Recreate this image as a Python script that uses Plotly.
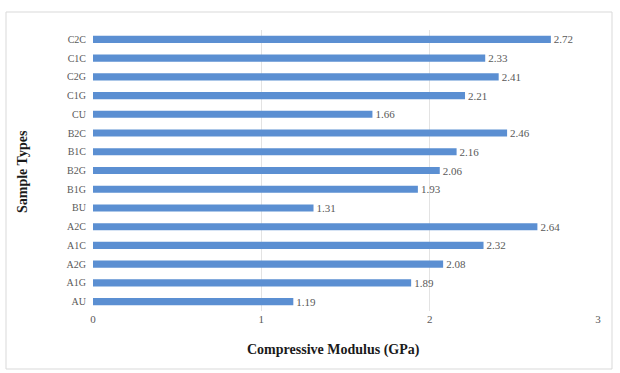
import plotly.graph_objects as go

# Sample types listed bottom-to-top as drawn on the category axis
sample_types = ["AU", "A1G", "A2G", "A1C", "A2C",
                "BU", "B1G", "B2G", "B1C", "B2C",
                "CU", "C1G", "C2G", "C1C", "C2C"]
modulus_gpa = [1.19, 1.89, 2.08, 2.32, 2.64,
               1.31, 1.93, 2.06, 2.16, 2.46,
               1.66, 2.21, 2.41, 2.33, 2.72]
x_ticks = [0, 1, 2, 3]

W, H = 620, 373
L, R, T, B = 93, 22, 30, 62
pw, ph = W - L - R, H - T - B

def px_to_paper_x(px):
    return (px - L) / pw

def px_to_paper_y(py):
    return (H - B - py) / ph

serif = "Liberation Serif"

fig = go.Figure(go.Bar(
    y=sample_types,
    x=modulus_gpa,
    orientation="h",
    marker=dict(color="#5b8fd2", line=dict(width=0)),
    text=[f"{v:.2f}" for v in modulus_gpa],
    textposition="outside",
    constraintext="none",
    textfont=dict(family=serif, size=11, color="#595959"),
    cliponaxis=False,
))

fig.update_layout(
    width=W, height=H,
    margin=dict(l=L, r=R, t=T, b=B),
    paper_bgcolor="white",
    plot_bgcolor="white",
    bargap=0.62,
    showlegend=False,
    xaxis=dict(
        range=[0, 3],
        tickvals=x_ticks,
        ticktext=[str(t) for t in x_ticks],
        showgrid=True,
        gridcolor="#e3e3e3",
        gridwidth=1,
        zeroline=False,
        showline=False,
        tickfont=dict(family=serif, size=11, color="#595959"),
    ),
    yaxis=dict(
        categoryorder="array",
        categoryarray=sample_types,
        showgrid=False,
        zeroline=False,
        showline=False,
        ticks="",
        ticklabelstandoff=6,
        tickfont=dict(family=serif, size=10, color="#595959"),
    ),
    annotations=[
        dict(text="<b>Compressive Modulus (GPa)</b>",
             xref="paper", yref="paper",
             x=px_to_paper_x(333), y=px_to_paper_y(350),
             xanchor="center", yanchor="middle", showarrow=False,
             font=dict(family=serif, size=14, color="#1a1a1a")),
        dict(text="<b>Sample Types</b>",
             xref="paper", yref="paper",
             x=px_to_paper_x(23), y=px_to_paper_y(172),
             xanchor="center", yanchor="middle", showarrow=False,
             textangle=-90,
             font=dict(family=serif, size=14, color="#1a1a1a")),
    ],
    shapes=[dict(
        type="rect", xref="paper", yref="paper",
        x0=px_to_paper_x(6), x1=px_to_paper_x(612),
        y0=px_to_paper_y(369), y1=px_to_paper_y(12),
        line=dict(color="#d9d9d9", width=1),
        fillcolor="rgba(0,0,0,0)", layer="below",
    )],
)

fig.write_html("out.html")
